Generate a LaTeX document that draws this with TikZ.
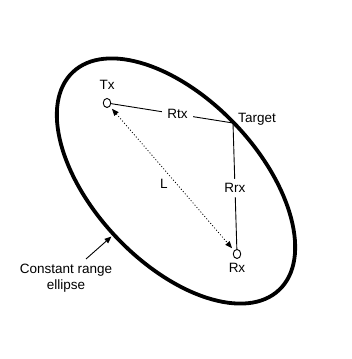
\documentclass[tikz,border=0pt]{standalone}
\usepackage{fontspec}
\setmainfont{Liberation Sans}
\usetikzlibrary{arrows.meta,shapes.geometric}
\begin{document}
\begin{tikzpicture}[x=1pt,y=1pt,
  lbl/.style={font=\fontsize{13.5}{16}\selectfont, inner sep=0pt},
  station/.style={draw, ellipse, line width=0.9pt, minimum width=7.5pt, minimum height=9pt, inner sep=0pt},
  rng/.style={line width=0.9pt},
  gaplbl/.style={lbl, fill=white, inner xsep=5.5pt, inner ysep=4.5pt},
  tipA/.style={-{Triangle[length=7pt,width=5.5pt]}},
  base/.style={line width=0.8pt, dash pattern=on 1pt off 2pt,
    {Triangle[length=7pt,width=5.5pt]}-{Triangle[length=7pt,width=5.5pt]},
    shorten >=3pt, shorten <=3pt}
]
\useasboundingbox (0,0) rectangle (351,359);
\draw[line width=3.8pt, rotate around={-46.5:(176,178)}] (176,178) ellipse [x radius=150, y radius=82];
\node[station] (Tx) at (107,256) {};
\node[station] (Rx) at (237,105) {};
\coordinate (Tg) at (233,236);
\node[lbl, anchor=base] (TxL) at (107,269) {Tx};
\node[lbl, anchor=base] (RxL) at (237,86) {Rx};
\node[lbl, anchor=base] (TgL) at (257,236.5) {Target};
\node[lbl, anchor=base] (LL) at (164,170.3) {L};
\draw[rng] (Tx) -- node[gaplbl, pos=0.545] (Rtx) {Rtx} (Tg);
\draw[rng] (Tg) -- node[gaplbl, pos=0.516] (Rrx) {Rrx} (Rx);
\draw[base] (Tx) -- (Rx);
\node[lbl, align=center, anchor=base] (CR) at (66,69) {Constant range\\ellipse};
\coordinate (CRs) at (86,100);
\coordinate (CRt) at (111.5,122.5);
\draw[rng, tipA] (CRs) -- (CRt);
\end{tikzpicture}
\end{document}
